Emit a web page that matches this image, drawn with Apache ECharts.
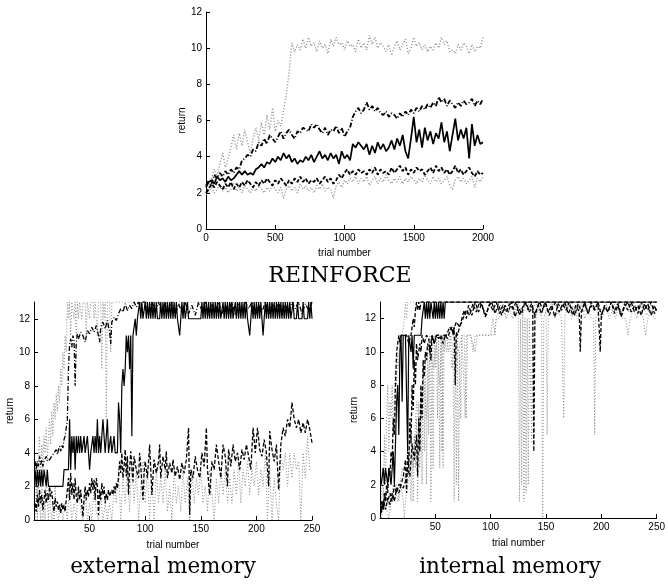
<!DOCTYPE html>
<html><head><meta charset="utf-8">
<script src="https://cdn.jsdelivr.net/npm/echarts@6/dist/echarts.min.js"></script>
<style>html,body{margin:0;padding:0;background:#fff}#c{width:668px;height:586px}</style>
</head><body><div id="c"></div>
<script>
// ---------- DATA ----------
const TOP_TRIALS = [0,20,40,60,80,100,120,140,160,180,200,220,240,260,280,300,320,340,360,380,400,420,440,460,480,500,520,540,560,580,600,620,640,660,680,700,720,740,760,780,800,820,840,860,880,900,920,940,960,980,1000,1020,1040,1060,1080,1100,1120,1140,1160,1180,1200,1220,1240,1260,1280,1300,1320,1340,1360,1380,1400,1420,1440,1460,1480,1500,1520,1540,1560,1580,1600,1620,1640,1660,1680,1700,1720,1740,1760,1780,1800,1820,1840,1860,1880,1900,1920,1940,1960,1980,2000];
const TOP_GRAY_HIGH = [
2.0,2.3,2.8,3.3,2.9,3.6,4.2,3.4,3.9,4.5,
5.2,4.4,5.3,4.6,5.5,4.8,4.2,5.0,5.6,4.9,
5.9,5.2,6.3,5.5,6.7,5.4,6.0,5.7,6.6,7.4,
8.7,10.3,9.8,10.2,9.9,10.5,10.0,10.6,10.1,10.3,
9.8,10.4,10.0,10.2,9.7,10.5,10.1,10.6,10.2,10.3,
9.9,10.4,10.1,10.2,9.8,10.5,10.0,10.3,9.9,10.7,
10.2,10.6,10.0,10.3,10.1,9.8,10.2,9.6,10.1,10.4,
9.9,10.2,10.5,9.7,10.0,10.6,10.1,10.3,9.9,10.2,
9.8,10.1,9.9,10.3,10.0,10.6,10.2,10.4,9.8,9.9,
9.7,10.2,9.9,10.3,10.1,9.7,10.2,9.8,10.1,10.0,
10.6];
const TOP_DASHDOT = [
2.4,2.7,2.5,3.0,2.8,3.1,2.9,3.2,3.0,3.3,
3.1,3.4,3.3,3.8,3.9,4.1,4.0,4.4,4.3,4.8,
4.6,5.0,4.7,5.2,5.0,4.8,5.1,5.4,5.0,5.3,
5.5,5.2,5.0,5.4,5.3,5.6,5.5,5.4,5.8,5.6,
5.8,5.5,5.3,5.6,5.2,5.5,5.4,5.7,5.3,5.6,
5.1,5.4,5.6,6.2,6.5,6.7,6.4,6.6,7.0,6.6,
6.8,6.5,6.7,6.4,6.3,6.5,6.2,6.4,6.3,6.1,
6.4,6.2,6.5,6.3,6.6,6.4,6.7,6.5,6.8,6.6,
6.9,6.7,7.0,6.8,7.3,7.0,7.2,6.8,7.1,6.9,
6.7,7.0,6.8,7.1,6.9,7.0,7.2,6.8,7.1,6.9,
7.2];
const TOP_SOLID = [
2.3,2.6,2.7,2.5,2.9,2.7,2.8,2.6,2.9,2.7,
2.8,3.0,3.2,3.0,3.2,3.0,3.1,3.0,3.3,3.4,
3.6,3.4,3.7,3.6,3.9,3.7,4.0,3.8,4.2,3.9,
4.1,3.7,3.9,3.6,3.8,3.7,4.0,3.8,4.1,3.7,
4.0,4.3,3.9,4.1,3.8,4.2,3.9,4.1,3.6,4.3,
3.9,4.1,3.8,4.7,4.5,4.8,4.6,4.4,4.7,4.1,
4.6,4.2,4.8,4.4,4.7,4.3,4.5,4.9,4.4,5.0,
4.6,5.2,4.3,3.9,5.0,6.2,4.8,5.5,4.5,5.6,
4.9,5.4,4.7,5.3,5.0,5.9,4.8,5.4,4.3,5.2,
6.1,4.9,5.5,5.0,5.6,3.9,5.8,4.6,5.2,4.7,
4.8];
const TOP_DASHED = [
2.0,2.2,2.5,2.3,2.6,2.4,2.2,2.5,2.3,2.6,
2.2,2.5,2.3,2.6,2.4,2.7,2.5,2.3,2.6,2.4,
2.7,2.5,2.8,2.6,2.4,2.7,2.5,2.8,2.6,2.4,
2.7,2.5,2.8,2.6,2.9,2.6,2.8,2.5,2.7,2.6,
2.8,2.5,2.7,2.9,2.6,2.8,2.5,2.7,3.0,2.8,
3.1,3.3,3.0,3.2,3.0,3.3,3.1,3.2,3.0,3.3,
3.1,3.4,3.0,3.3,3.1,3.2,3.0,3.4,3.1,3.3,
3.5,3.2,3.4,3.0,3.3,3.1,3.4,3.2,3.3,3.0,
3.2,3.4,3.1,3.5,3.2,3.4,3.1,3.3,3.0,3.2,
3.5,3.1,3.3,3.0,3.2,3.4,3.1,2.9,3.2,3.0,
3.1];
const TOP_GRAY_LOW = [
1.9,2.1,2.3,2.0,2.2,2.4,2.1,2.3,2.0,2.2,
2.5,2.1,2.3,2.0,2.4,2.2,2.0,2.3,2.1,2.4,
2.2,2.0,2.3,2.1,2.4,2.2,2.0,2.3,1.7,2.2,
2.4,2.1,2.3,2.0,2.5,2.2,2.4,2.1,2.3,2.0,
2.4,2.2,2.5,2.1,2.3,2.2,1.7,2.4,2.6,2.3,
2.7,2.5,2.8,2.6,2.9,2.5,2.8,2.6,2.9,2.4,
2.7,2.9,2.5,2.8,2.6,3.0,2.7,2.5,2.8,2.6,
2.9,2.5,2.8,2.6,2.9,2.7,2.5,2.8,2.6,3.0,
2.7,2.5,2.9,2.6,2.8,2.5,2.7,2.9,2.4,2.2,
2.7,2.9,2.6,2.8,2.5,2.7,2.9,2.3,2.8,2.6,
2.9];

// external memory: [trial, return]
const EXT_SOLID = [[1,3],[2,2],[3,3],[4,2],[5,3],[6,2],[7,3],[8,2],[9,3],[10,3],[11,2],[12,3],[13,2],[14,2],[16,2],[18,2],[20,2],[22,2],[24,2],[26,2],[27,3],[29,3],[31,3],[32,6],[33,3],[34,5],[35,4],[36,5],[37,3],[38,5],[39,4],[40,5],[41,4],[42,5],[43,4],[44,4],[45,5],[46,4],[47,4],[48,5],[49,4],[50,3],[51,4],[52,4],[53,5],[54,4],[55,5],[56,4],[57,6],[58,4],[59,5],[60,4],[61,5],[62,6],[63,5],[64,4],[65,4],[66,6],[67,4],[68,4],[69,5],[70,4],[71,4],[72,5],[73,4],[74,4],[75,4],[76,7],[77,6],[78,4],[79,8],[80,9],[81,8],[82,9],[83,11],[84,10],[85,11],[86,9],[87,11],[88,5],[89,11],[90,11],[91,12],[92,11],[93,12],[94,12],[95,13],[96,12],[97,13],[98,12],[99,12],[100,13],[101,12],[102,13],[103,12],[104,13],[105,12],[106,13],[107,12],[108,13],[109,12],[110,13],[111,12],[113,12],[114,13],[115,12],[116,13],[117,12],[118,13],[119,12],[120,13],[121,12],[122,13],[123,12],[124,13],[125,12],[126,13],[127,12],[128,13],[129,12],[130,12],[131,11],[132,12],[133,13],[134,12],[135,13],[136,12],[137,12],[138,13],[139,12],[146,12],[150,12],[151,13],[152,12],[153,13],[154,12],[155,13],[156,12],[157,13],[158,12],[159,13],[160,12],[161,13],[162,12],[163,13],[164,12],[165,13],[166,12],[167,13],[168,12],[169,12],[170,13],[171,12],[172,13],[173,12],[174,13],[175,12],[176,13],[177,12],[178,13],[179,12],[180,12],[181,13],[182,12],[183,13],[184,12],[185,13],[186,12],[187,13],[188,12],[189,13],[190,12],[191,13],[192,12],[193,12],[194,11],[195,12],[196,13],[197,12],[198,13],[199,12],[200,13],[201,12],[202,13],[203,12],[204,13],[205,12],[206,11],[207,12],[208,13],[209,12],[210,13],[211,12],[212,13],[213,12],[214,13],[215,12],[216,13],[217,12],[218,13],[219,12],[220,13],[221,12],[222,13],[223,12],[224,13],[225,12],[226,13],[227,12],[228,13],[229,12],[230,13],[231,12],[232,12],[233,13],[234,12],[236,12],[237,13],[238,12],[241,12],[242,13],[243,12],[246,12],[247,13],[248,12],[249,13],[250,12]];
const EXT_DASHDOT = [[1,3.5],[2,3],[3,3.5],[4,3.2],[5,3.8],[6,3.3],[7,3.6],[8,3.2],[9,3.5],[10,3.4],[11,3.8],[12,3.5],[14,3.6],[16,3.8],[18,4],[20,4.2],[21,3.9],[22,4.2],[23,4.4],[24,4.1],[25,4.5],[26,4.3],[27,4.8],[28,5],[29,5.5],[30,6],[31,9],[32,10.5],[33,10.8],[34,10.3],[35,11],[36,10.7],[37,8],[38,10.6],[39,11.1],[40,10.8],[42,11.2],[44,11],[46,10.6],[48,11.3],[50,11.1],[52,11.5],[54,11.2],[56,11.6],[58,11],[59,10.6],[60,11.5],[62,11.8],[64,11.4],[66,11.9],[68,11.2],[69,10.5],[70,11.8],[72,12.1],[74,11.9],[76,12.3],[78,12.6],[80,12.4],[82,12.9],[84,12.5],[86,12.8],[88,12.6],[90,13],[92,12.7],[94,13],[96,12.8],[98,13],[100,13],[103,12.2],[106,13],[109,12.4],[112,13],[115,12.3],[118,13],[121,12.5],[124,13],[127,12.2],[130,12.9],[133,12.4],[136,13],[139,12.3],[142,12.8],[145,12.2],[148,13],[151,12.5],[154,13],[157,12.2],[160,12.9],[163,12.4],[166,13],[169,12.3],[172,12.8],[175,12.5],[178,13],[181,12.2],[184,12.9],[187,12.4],[190,13],[193,12.6],[196,13],[199,12.2],[202,12.8],[205,12.4],[208,13],[211,12.3],[214,12.9],[217,12.5],[220,13],[223,12.2],[226,12.8],[229,12.4],[232,13],[235,12.6],[238,13],[241,12.3],[244,12.9],[247,12.5],[250,13]];
const EXT_DASHED = [[1,1],[2,0.5],[3,1.5],[4,0.8],[5,1.8],[6,1],[7,1.5],[8,0.6],[9,1.2],[10,1.8],[11,1],[12,1.6],[13,1.2],[14,2],[15,1.4],[16,1.7],[17,1],[18,0.5],[19,1.3],[20,0.8],[21,1.1],[22,0.6],[23,0.9],[24,0.4],[25,1],[26,0.6],[27,0.9],[28,0.5],[29,1.2],[30,1.8],[31,2.5],[32,1.2],[33,2.8],[34,1.5],[35,2.2],[36,1.2],[37,2.5],[38,1.4],[39,1],[40,2],[41,1.2],[42,1.8],[43,0.9],[44,0.2],[45,1.3],[46,2],[47,1.2],[48,1.8],[49,1.4],[50,2.2],[51,1.6],[52,2.5],[53,1.8],[54,2.4],[55,1.2],[56,2.5],[57,2],[58,0.3],[59,1.8],[60,1.2],[61,2.2],[62,1.5],[63,2],[64,1],[65,1.6],[66,1.2],[67,1.8],[68,1.4],[69,1.6],[70,1.8],[71,1.5],[72,2],[73,1.6],[74,2.2],[75,1.9],[76,2.5],[77,3.5],[78,2.8],[79,4],[80,2.5],[81,3.2],[82,4.2],[83,2.6],[84,3.8],[85,1.5],[86,3],[87,4.1],[88,3.2],[89,2.3],[90,3.8],[92,3],[94,2.5],[95,4],[96,3.2],[98,1.2],[99,2.8],[100,3.5],[102,2.5],[104,4.5],[105,3],[106,1.5],[108,3.6],[110,2.8],[112,3.5],[113,4.5],[114,2.5],[116,3.8],[118,3],[119,4.1],[120,2.5],[122,3.4],[124,2.8],[125,3.6],[127,2.6],[129,3.2],[131,2.4],[133,3.4],[135,2.8],[137,3.6],[139,5.5],[140,0.3],[141,3],[143,2.5],[145,3.8],[147,3],[149,2.5],[151,4],[153,3.2],[155,5.5],[156,3],[158,1.5],[160,3.5],[162,3],[164,4.5],[166,3.5],[168,2.5],[170,4.5],[172,3.8],[174,2],[175,4.2],[177,3.2],[179,4.5],[181,3.5],[183,4],[185,3],[187,4.2],[189,3.6],[191,4.5],[193,3.8],[195,3],[197,5.5],[199,4],[201,5.5],[203,4.2],[205,3.8],[207,4.8],[209,4],[211,2],[212,5.3],[214,4.2],[216,3.5],[218,4.5],[220,1.8],[222,4.5],[224,5.5],[226,5],[228,6],[230,5.5],[232,7],[234,6],[236,5.5],[238,6],[240,5.2],[242,5.8],[244,5.2],[246,6],[248,5.4],[250,4.6]];
const EXT_DOT_HIGH = [[1,2],[2,3.5],[3,1],[4,4],[5,5],[6,2],[7,4.5],[8,3],[9,5],[10,4],[11,5.5],[12,3.5],[13,5],[14,6],[15,4.5],[16,6.5],[17,5],[18,7],[19,6],[20,7.5],[21,6.5],[22,8],[23,7],[24,9],[25,8],[26,10],[27,9],[28,11],[29,10],[30,13],[31,12],[32,13],[33,11],[34,13],[36,12],[37,13],[38,11],[39,13],[40,12],[41,13],[43,12],[44,13],[46,13],[47,11],[48,13],[50,12],[51,13],[53,13],[54,12],[55,13],[57,11],[58,13],[60,13],[61,9],[62,13],[63,12],[64,13],[65,6],[66,13],[68,13],[69,10],[70,13],[250,13]];
const EXT_DOT_LOW = [[1,0],[2,2],[3,0],[4,3],[5,1],[6,0],[7,2],[8,0],[9,1],[10,0],[11,3],[12,1],[13,0],[14,2],[15,0.5],[16,0],[17,1],[18,0],[19,2],[20,0.5],[22,0],[24,1],[26,0],[28,1],[30,0],[32,2],[34,0],[36,1],[38,0],[40,2],[42,0.5],[44,0],[46,1.5],[48,0],[50,1],[52,0],[54,2],[56,0.5],[58,0],[60,1.5],[62,0],[64,1],[66,0],[68,1],[70,0],[72,2],[74,1],[76,3],[78,0],[80,2.5],[82,1],[84,3],[86,0.5],[88,3.5],[90,1],[92,3],[94,0],[96,2],[98,3.5],[100,1],[102,3],[104,0],[106,2.5],[108,0],[110,3],[112,1],[114,2.5],[116,1],[118,3],[120,0.5],[122,2],[124,0],[126,3],[128,1],[130,2],[132,0.5],[134,3],[136,1],[138,2.5],[140,0],[142,3],[144,1],[146,2.5],[148,1.5],[150,3],[152,1],[154,2],[156,0.5],[158,3],[160,1.5],[162,0],[164,2.5],[166,1],[168,3],[170,1.5],[172,3],[174,1],[176,2.5],[178,1],[180,3],[182,1.5],[184,3.5],[186,1],[188,3],[190,2],[192,3.5],[194,1.5],[196,3],[198,2],[200,3.5],[202,1.5],[204,3],[206,2],[208,4],[210,0],[212,3],[214,0],[216,2.5],[218,1],[220,0],[222,4],[224,3],[226,4],[228,2],[230,4],[232,2.5],[234,4],[236,3],[238,3.5],[240,0],[242,4],[244,2.5],[246,5],[248,3],[250,3]];

// internal memory: [trial, return]
const INT_SOLID = [[1,2],[2,2],[3,3],[4,2],[5,3],[6,3],[7,2],[8,3],[9,3],[10,2],[11,3],[12,4],[13,2],[14,2],[15,7],[16,8],[17,5],[18,10],[19,11],[20,7],[21,11],[22,11],[23,11],[24,11],[25,4],[26,11],[27,11],[28,10],[29,11],[30,9],[31,11],[33,11],[35,11],[37,11],[38,12],[39,12],[40,13],[41,12],[42,13],[43,12],[44,13],[45,12],[46,13],[47,13],[48,12],[49,13],[50,12],[51,13],[52,12],[53,13],[54,12],[55,13],[56,12],[57,13],[58,12],[59,13],[250,13]];
const INT_DASH_A = [[1,0.5],[2,1],[3,0.5],[4,1.5],[5,1],[6,2],[7,1.5],[8,3],[9,2.5],[10,4],[11,3.5],[12,6],[13,5],[14,8],[15,10],[16,10.5],[17,11],[18,10.5],[19,11],[20,11],[22,11],[24,11],[26,10.5],[28,11],[29,11.5],[30,12],[31,11.5],[32,12.5],[33,13],[34,12.5],[35,13],[36,12.5],[37,13],[250,13]];
const INT_DASH_B = [[1,1],[3,0.5],[5,1.5],[7,1],[9,1.5],[11,1],[13,2],[15,1.5],[17,2],[19,2],[21,2.5],[23,3.5],[24,1.5],[25,4],[26,3],[27,6],[28,4.5],[29,8],[30,6.5],[31,9.5],[32,8],[33,10.5],[34,9.5],[35,10],[36,10.5],[37,10],[38,11],[40,10.5],[42,11],[44,10.8],[46,9.5],[47,11],[49,10.5],[51,11],[53,10.8],[55,11],[57,10.5],[59,11],[61,10.8],[63,11.2],[65,11.5],[66,11],[67,11.5],[68,8],[69,11.2],[70,11],[72,11.5],[74,12],[76,12.5],[78,12],[80,12.8],[83,12.2],[86,13],[89,12.4],[92,12.9],[95,12.1],[98,12.7],[101,13],[104,12.3],[107,12.9],[110,12.2],[113,12.8],[116,12.4],[119,13],[122,12.1],[125,12.7],[128,12.3],[131,13],[134,12.5],[137,12.9],[140,12.2],[143,12.8],[146,12.3],[149,13],[152,12.4],[155,12.8],[158,12.1],[161,12.9],[164,12.5],[167,13],[170,12.3],[173,12.7],[176,12.2],[179,12.9],[182,12.4],[185,13],[188,12.3],[191,12.8],[194,12.5],[197,13],[200,12.2],[203,12.7],[206,12.4],[209,13],[212,12.3],[215,12.8],[218,12.1],[221,12.9],[224,12.5],[227,13],[230,12.4],[233,12.8],[236,12.2],[239,12.9],[242,12.5],[245,13],[248,12.3],[250,12.6]];
const INT_DASH_C = [[1,0.3],[3,1],[5,0.5],[7,1.2],[9,0.8],[11,1.5],[13,1],[15,1.8],[17,1.5],[19,2],[21,1.8],[23,2.2],[25,3],[27,2.5],[29,4.5],[31,3.5],[33,5],[34,2.5],[35,6],[36,4],[37,8],[38,6],[39,9.5],[40,8.5],[41,10],[42,9.5],[43,10.5],[45,10],[47,11],[49,10.5],[51,11],[53,11],[55,10.8],[57,11],[60,11],[63,11.5],[66,11.2],[69,11.8],[72,11.5],[75,12],[78,12.5],[81,12.2],[84,12.9],[87,12.4],[90,13],[93,12.6],[96,12.2],[99,12.9],[102,12.5],[105,13],[108,12.3],[111,12.8],[114,12.4],[117,12.9],[120,12.6],[123,13],[126,12.2],[129,12.7],[132,13],[135,12.4],[138,12.8],[139,4],[140,12.3],[144,13],[147,12.6],[150,12.9],[153,12.2],[156,12.7],[159,13],[162,12.4],[165,12.9],[168,12.5],[171,13],[174,12.2],[177,12.8],[180,12.4],[181,10],[182,12.4],[185,12.9],[188,12.3],[191,13],[194,12.6],[197,12.9],[199,10],[200,12.2],[203,12.8],[206,12.4],[209,13],[212,12.5],[215,12.9],[218,12.2],[221,12.7],[224,13],[227,12.4],[230,12.8],[233,12.3],[236,13],[239,12.5],[242,12.9],[245,12.2],[248,12.8],[250,12.4]];
const INT_DOT_A = [[1,0.5],[2,3],[3,1],[4,5],[5,2],[6,6],[7,8],[8,4],[9,7],[10,6],[11,8],[12,5],[13,7.5],[14,9],[15,8],[16,10],[17,9],[18,11],[19,10.5],[20,11],[21,11],[22,12],[23,13],[24,12],[25,13],[250,13]];
const INT_DOT_B = [[1,0],[3,1],[5,0.5],[7,1],[9,0.5],[11,1.5],[13,1],[15,2],[17,1],[19,2],[21,1],[22,0],[23,1],[25,2],[27,3],[28,1],[29,4],[30,1],[31,5],[32,3],[33,6],[34,1],[35,7],[36,3],[37,8],[38,2],[39,9],[40,4],[41,10],[42,2],[43,10],[44,5],[45,11],[46,1],[47,10.5],[48,3],[49,11],[50,9],[51,11],[52,6],[53,11],[54,3],[55,11],[56,4],[57,11],[58,10],[60,11],[62,10],[64,11],[66,10],[67,1],[68,11],[69,2],[70,11],[71,1],[72,10],[73,6],[74,11],[76,11],[78,6],[79,11],[82,11],[84,10],[86,11],[90,11],[95,11],[100,11],[102,12],[104,11],[105,12],[108,12],[111,13],[114,12],[117,12.5],[120,12],[123,13],[125,12],[126,1],[127,12],[128,2],[129,12.5],[130,1],[131,12],[132,1.5],[133,12],[134,2],[135,12],[137,4.6],[138,12.5],[141,12],[144,13],[146,12],[147,0],[148,12],[150,12.5],[151,5],[152,12],[155,13],[158,12],[161,12.5],[164,12],[166,6],[167,12],[170,13],[173,12],[176,12.5],[179,12],[182,13],[185,12],[188,12.5],[191,12],[193,12],[194,5],[195,12],[198,12.5],[201,12],[204,13],[207,12],[210,12.5],[213,12],[216,13],[219,12],[222,12],[224,11],[226,12],[229,12.5],[232,12],[235,13],[238,12],[240,11],[242,12],[245,12.5],[248,12],[250,12]];
const INT_DOT_C = [[1,0],[4,1],[8,0],[12,2],[16,1],[20,3],[24,2],[28,5],[30,3],[33,7],[36,5],[39,9],[42,6],[45,10],[48,9],[51,10.5],[54,8],[56,11],[57,3],[58,11],[60,10],[63,11],[65,9],[68,11],[71,10],[74,11],[77,6],[78,11],[82,11],[86,10],[88,11],[103,11],[105,12],[109,12.8],[113,12.2],[117,13],[121,12.4],[125,12.9],[129,12.3],[133,13],[137,12.5],[141,12.9],[145,12.2],[149,12.8],[153,12.4],[157,13],[161,12.3],[165,12.8],[169,12.5],[173,13],[177,12.2],[181,12.8],[185,12.4],[189,13],[193,12.5],[197,12.9],[201,12.3],[205,12.8],[209,12.5],[213,13],[217,12.2],[221,12.8],[225,12.4],[229,13],[233,12.5],[237,12.9],[241,12.2],[245,12.8],[250,12.5]];

const TOP_X_TICKS = [0,500,1000,1500,2000];
const TOP_Y_TICKS = [0,2,4,6,8,10,12];
const BOT_X_TICKS = [50,100,150,200,250];
const BOT_Y_TICKS = [0,2,4,6,8,10,12];
const PANEL_TITLES = ['REINFORCE','external memory','internal memory'];

// ---------- CHART ----------
const SANS = 'Liberation Sans, Arial, sans-serif';
const SERIF = 'DejaVu Serif, serif';
const chart = echarts.init(document.getElementById('c'), null, {renderer:'canvas'});
const plain = v => String(v);

function xAxis(g, min, max, ticks, gap) {
  return {type:'value', gridIndex:g, min:min, max:max,
    name:'trial number', nameLocation:'middle', nameGap:gap,
    nameTextStyle:{fontFamily:SANS, fontSize:10, color:'#000'},
    axisLine:{onZero:false, lineStyle:{color:'#000', width:1}},
    axisTick:{inside:true, length:4, customValues:ticks, lineStyle:{color:'#000'}},
    axisLabel:{customValues:ticks, formatter:plain, fontFamily:SANS, fontSize:10, color:'#000', margin:4},
    splitLine:{show:false}};
}
function yAxis(g, min, max, ticks, gap) {
  return {type:'value', gridIndex:g, min:min, max:max,
    name:'return', nameLocation:'middle', nameGap:gap, nameRotate:90,
    nameTextStyle:{fontFamily:SANS, fontSize:10, color:'#000'},
    axisLine:{onZero:false, lineStyle:{color:'#000', width:1}},
    axisTick:{inside:true, length:4, customValues:ticks, lineStyle:{color:'#000'}},
    axisLabel:{customValues:ticks, formatter:plain, fontFamily:SANS, fontSize:10, color:'#000', margin:4},
    splitLine:{show:false}};
}
const GRAY = '#8a8a8a';
const STY = {
  dot:{color:GRAY, type:[1,2]},
  solid:{color:'#000', type:'solid'},
  dash:{color:'#000', type:[4,2]},
  dashdot:{color:'#000', type:[5,2,1,2]}
};
function ser(g, data, st, w, z) {
  return {type:'line', xAxisIndex:g, yAxisIndex:g, data:data, symbol:'none',
    lineStyle:Object.assign({width:w}, STY[st]), z:z, silent:true, animation:false};
}
const zip = arr => TOP_TRIALS.map((t,i)=>[t, arr[i]]);

chart.setOption({
  animation:false,
  grid:[
    {left:206, top:12, width:277, height:217},
    {left:34, top:302, width:278, height:218},
    {left:380, top:302, width:277, height:216}
  ],
  xAxis:[xAxis(0,0,2000,TOP_X_TICKS,19), xAxis(1,0,250,BOT_X_TICKS,20), xAxis(2,0,250,BOT_X_TICKS,20)],
  yAxis:[yAxis(0,0,12,TOP_Y_TICKS,19), yAxis(1,0,13,BOT_Y_TICKS,19), yAxis(2,0,13,BOT_Y_TICKS,21)],
  series:[
    ser(0, zip(TOP_GRAY_HIGH), 'dot', 1.4, 1),
    ser(0, zip(TOP_GRAY_LOW), 'dot', 1.4, 1),
    ser(0, zip(TOP_DASHED), 'dash', 1.8, 2),
    ser(0, zip(TOP_SOLID), 'solid', 1.7, 3),
    ser(0, zip(TOP_DASHDOT), 'dashdot', 1.8, 2),
    ser(1, EXT_DOT_HIGH, 'dot', 1, 1),
    ser(1, EXT_DOT_LOW, 'dot', 1, 1),
    ser(1, EXT_DASHED, 'dash', 1.3, 2),
    ser(1, EXT_DASHDOT, 'dashdot', 1.3, 2),
    ser(1, EXT_SOLID, 'solid', 1.2, 3),
    ser(2, INT_DOT_A, 'dot', 1, 1),
    ser(2, INT_DOT_B, 'dot', 1, 1),
    ser(2, INT_DOT_C, 'dot', 1, 1),
    ser(2, INT_DASH_A, 'dash', 1.3, 2),
    ser(2, INT_DASH_B, 'dash', 1.3, 2),
    ser(2, INT_DASH_C, 'dash', 1.3, 2),
    ser(2, INT_SOLID, 'solid', 1.2, 3)
  ],
  graphic:[
    {type:'text', x:340, y:276, style:{text:PANEL_TITLES[0], font:'22px '+SERIF, fill:'#000', textAlign:'center', textVerticalAlign:'middle'}},
    {type:'text', x:163, y:567, style:{text:PANEL_TITLES[1], font:'21.5px '+SERIF, fill:'#000', textAlign:'center', textVerticalAlign:'middle'}},
    {type:'text', x:510, y:567, style:{text:PANEL_TITLES[2], font:'21.5px '+SERIF, fill:'#000', textAlign:'center', textVerticalAlign:'middle'}}
  ]
});
</script></body></html>
